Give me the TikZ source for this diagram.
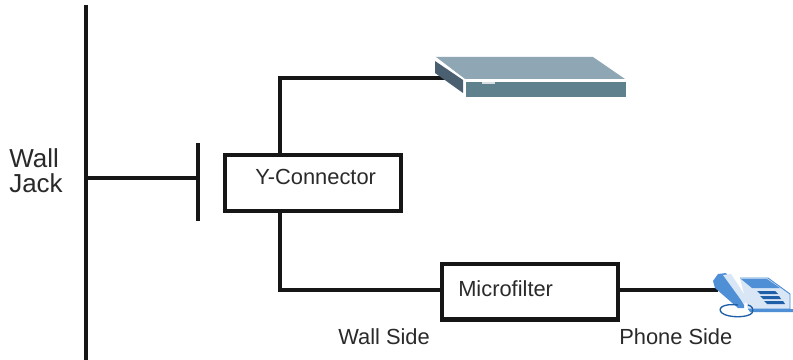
\documentclass[tikz,border=0pt]{standalone}
\usepackage{fontspec}
\setmainfont{Liberation Sans}
\definecolor{ink}{HTML}{161616}
\definecolor{txt}{HTML}{2A2A2A}
\definecolor{mtop}{HTML}{8FA6B4}
\definecolor{mfront}{HTML}{5F818E}
\definecolor{mside}{HTML}{4A5F70}
\definecolor{pblue}{HTML}{4F8FD6}
\definecolor{pdark}{HTML}{1F5FA8}
\definecolor{plight}{HTML}{D8E6F5}
\tikzset{
  wire/.style={draw=ink,line width=2.6pt},
  bar/.style={draw=ink,line width=3.2pt},
  boxnode/.style={draw=ink,line width=3.2pt,fill=white,inner sep=0pt,anchor=north west},
  lab/.style={text=txt,font=\fontsize{16.4pt}{19pt}\selectfont,inner sep=0pt,anchor=base west},
  jack/.style={text=txt,font=\fontsize{19.5pt}{19pt}\selectfont,inner sep=0pt,anchor=base west}
}
\begin{document}
\begin{tikzpicture}[x=0.75pt,y=-0.75pt]
\useasboundingbox (0,0) rectangle (793,360);
\fill[white] (0,0) rectangle (793,360);
% wall line and stub
\coordinate (wallTop) at (86,5);
\coordinate (wallBot) at (86,360);
\coordinate (wallJoin) at (86,178);
\coordinate (stubTop) at (198,143);
\coordinate (stubBot) at (198,221);
\coordinate (stubJoin) at (198,178);
\draw[bar] (wallTop) -- (wallBot);
\draw[bar] (stubTop) -- (stubBot);
\draw[wire] (wallJoin) -- (stubJoin);
% boxes
\node[boxnode,minimum width=132pt,minimum height=42pt] (yc) at (223,153) {};
\node[boxnode,minimum width=132pt,minimum height=41.5pt] (mf) at (440,262) {};
\coordinate (modemPort) at (445,78);
\coordinate (phonePort) at (718,290);
\coordinate (ycTopOut) at (280,153);
\coordinate (ycBotOut) at (280,211);
\coordinate (mfIn) at (440,290);
\coordinate (mfOut) at (620,290);
\draw[wire] (ycTopOut) |- (modemPort);
\draw[wire] (ycBotOut) |- (mfIn);
\draw[wire] (mfOut) -- (phonePort);
% modem
\fill[mtop] (435,57) -- (593,57) -- (625,79) -- (465,79) -- cycle;
\fill[mfront] (466,82) -- (626,82) -- (626,97) -- (466,97) -- cycle;
\fill[mside] (435,61) -- (463,80) -- (463,93) -- (435,73) -- cycle;
\draw[white,line width=0.8pt] (435,57) -- (465,80) -- (626,80);
\fill[white!75!mfront] (482,82) rectangle (495,84.5);
% phone
\fill[plight] (740,278) -- (768,278) -- (790,294) -- (790,309) -- (748,309) -- cycle;
\draw[pblue,line width=0.7pt] (740,278) -- (768,278) -- (790,294) -- (790,309) -- (748,309);
\fill[pblue] (741,279) -- (767,279) -- (780,288) -- (752,288) -- cycle;
\fill[pdark] (757,291) -- (775,291) -- (778,294) -- (760,294) -- cycle;
\fill[pdark] (760,296) -- (779,296) -- (781,299) -- (763,299) -- cycle;
\fill[pdark] (764,301) -- (783,301) -- (785,304) -- (767,304) -- cycle;
\fill[pblue] (748,309) -- (793,309) -- (793,312) -- (750,312) -- cycle;
\fill[pblue] (718,274) -- (726,273) -- (744,305) -- (744,308) -- (738,308) -- (715,288) -- (713,281) -- cycle;
\fill[plight] (723,275) -- (731,274) -- (748,300) -- (744,304) -- cycle;
\draw[pdark,line width=1pt] (738,305) .. controls (722,303) and (717,309) .. (722,313) .. controls (728,318) and (748,318) .. (752,313) .. controls (754,309) and (752,306) .. (748,305);
% labels
\node[jack] (walljacka) at (9,167) {Wall};
\node[jack] (walljackb) at (9,192) {Jack};
\node[lab] (yctext) at (255,184) {Y-Connector};
\node[lab] (mftext) at (458,296) {Microfilter};
\node[lab] (wallside) at (338,344) {Wall Side};
\node[lab] (phoneside) at (619,344) {Phone Side};
\end{tikzpicture}
\end{document}
